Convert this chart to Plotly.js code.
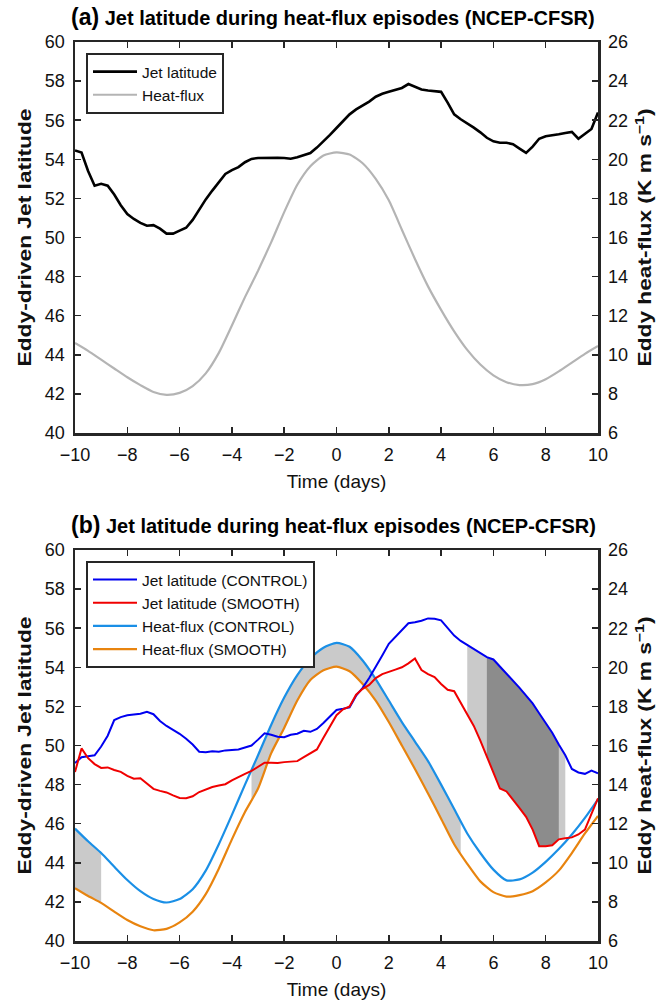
<!DOCTYPE html>
<html>
<head>
<meta charset="utf-8">
<script src="https://cdn.plot.ly/plotly-3.0.1.min.js"></script>
<style>
  html, body { margin: 0; padding: 0; background: #ffffff; }
  #chart { width: 668px; height: 1000px; }
</style>
</head>
<body>
<div id="chart"></div>
<script>
// ---- time axes (days relative to the heat-flux peak) ----
const DAYS_JET = Array.from({length: 81}, (_, i) => -10 + i * 0.25);   // 6-hourly
const DAYS_HF  = Array.from({length: 41}, (_, i) => -10 + i * 0.5);    // 12-hourly

// ---- panel (a): NCEP-CFSR composite ----
const jetLatA = [
  54.45, 54.35, 53.40, 52.65, 52.75, 52.65, 52.20, 51.65, 51.20, 50.95,
  50.75, 50.60, 50.63, 50.45, 50.20, 50.20, 50.35, 50.50, 50.90, 51.45,
  51.95, 52.40, 52.85, 53.25, 53.45, 53.60, 53.85, 54.02, 54.07, 54.08,
  54.08, 54.08, 54.07, 54.03, 54.10, 54.20, 54.32, 54.60, 54.90, 55.25,
  55.60, 55.95, 56.30, 56.55, 56.75, 56.95, 57.20, 57.35, 57.45, 57.55,
  57.65, 57.85, 57.70, 57.57, 57.52, 57.48, 57.45, 56.90, 56.30, 56.05,
  55.85, 55.62, 55.38, 55.10, 54.92, 54.85, 54.85, 54.77, 54.55, 54.33,
  54.65, 55.05, 55.18, 55.22, 55.28, 55.35, 55.40, 55.05, 55.30, 55.55,
  56.40
];
const heatFluxA = [
  10.60, 10.20, 9.75, 9.30, 8.85, 8.45, 8.10, 7.95, 8.05, 8.40,
  9.05, 10.10, 11.50, 12.95, 14.30, 15.75, 17.30, 18.70, 19.65, 20.20,
  20.35, 20.25, 19.80, 19.00, 17.90, 16.40, 14.90, 13.50, 12.30, 11.20,
  10.25, 9.50, 8.95, 8.60, 8.45, 8.50, 8.75, 9.15, 9.60, 10.05,
  10.45
];

// ---- panel (b): CONTROL vs SMOOTH experiments ----
const jetLatControl = [
  49.10, 49.40, 49.45, 49.50, 49.95, 50.50, 51.30, 51.45, 51.55, 51.58,
  51.62, 51.72, 51.60, 51.25, 51.00, 50.80, 50.60, 50.35, 50.05, 49.68,
  49.65, 49.70, 49.68, 49.75, 49.78, 49.80, 49.90, 50.00, 50.30, 50.62,
  50.55, 50.45, 50.42, 50.55, 50.60, 50.75, 50.70, 50.85, 51.15, 51.50,
  51.82, 51.88, 51.95, 52.55, 52.95, 53.45, 54.00, 54.60, 55.20, 55.55,
  55.90, 56.25, 56.30, 56.38, 56.50, 56.48, 56.40, 56.00, 55.62, 55.35,
  55.14, 54.95, 54.75, 54.52, 54.40, 54.05, 53.70, 53.30, 52.95, 52.55,
  52.15, 51.65, 51.15, 50.65, 50.05, 49.50, 48.80, 48.62, 48.55, 48.72,
  48.58
];
const jetLatSmooth = [
  48.65, 49.85, 49.35, 49.05, 48.85, 48.88, 48.75, 48.65, 48.45, 48.30,
  48.32, 48.05, 47.78, 47.68, 47.60, 47.45, 47.32, 47.30, 47.40, 47.62,
  47.75, 47.88, 47.95, 48.02, 48.22, 48.40, 48.55, 48.70, 48.90, 49.12,
  49.12, 49.10, 49.15, 49.17, 49.20, 49.40, 49.60, 49.80, 50.40, 51.00,
  51.55, 51.85, 52.00, 52.60, 52.90, 53.10, 53.45, 53.65, 53.75, 53.88,
  54.00, 54.20, 54.45, 53.86, 53.65, 53.50, 53.15, 52.85, 52.78, 52.20,
  51.60, 51.00, 50.25, 49.40, 48.60, 47.80, 47.65, 47.25, 46.80, 46.35,
  45.70, 44.85, 44.85, 44.90, 45.20, 45.25, 45.30, 45.45, 45.70, 46.50,
  47.30
];
const heatFluxControl = [
  11.75, 11.10, 10.50, 9.80, 9.12, 8.55, 8.15, 7.97, 8.15, 8.65,
  9.60, 10.95, 12.45, 14.00, 15.50, 17.05, 18.45, 19.60, 20.45, 21.00,
  21.25, 21.05, 20.35, 19.40, 18.30, 17.20, 16.20, 15.20, 14.00, 12.75,
  11.50, 10.50, 9.65, 9.10, 9.15, 9.50, 10.05, 10.70, 11.45, 12.30,
  13.25
];
const heatFluxSmooth = [
  8.70, 8.30, 7.95, 7.50, 7.07, 6.75, 6.55, 6.62, 6.95, 7.50,
  8.40, 9.70, 11.20, 12.60, 13.80, 15.60, 16.90, 18.30, 19.35, 19.85,
  20.03, 19.80, 19.15, 18.30, 17.20, 16.00, 14.80, 13.55, 12.25, 10.95,
  9.95, 9.05, 8.50, 8.27, 8.35, 8.55, 9.00, 9.60, 10.50, 11.50,
  12.40
];

// shaded windows (days)
const hfWindows      = [[-10, -9.0], [-3.25, 4.75]];   // heat-flux difference
const jetWindowLight = [5.0, 8.75];                    // jet difference, light
const jetWindowDark  = [5.75, 8.5];                    // jet difference, dark

const TICK_LABELS_DAYS = ['\u221210', '\u22128', '\u22126', '\u22124', '\u22122', '0', '2', '4', '6', '8', '10'];
const TICK_VALS_DAYS = [-10, -8, -6, -4, -2, 0, 2, 4, 6, 8, 10];

// ---- helpers ----
function valueAt(xs, ys, t) {
  for (let i = 0; i < xs.length - 1; i++) {
    if (t >= xs[i] && t <= xs[i + 1]) {
      const f = (t - xs[i]) / (xs[i + 1] - xs[i]);
      return ys[i] + f * (ys[i + 1] - ys[i]);
    }
  }
  return ys[ys.length - 1];
}
function segment(xs, ys, a, b) {
  const sx = [a], sy = [valueAt(xs, ys, a)];
  xs.forEach((x, i) => { if (x > a + 1e-9 && x < b - 1e-9) { sx.push(x); sy.push(ys[i]); } });
  sx.push(b); sy.push(valueAt(xs, ys, b));
  return {x: sx, y: sy};
}
// closed polygon between two series (straight segments)
function band(xs, upper, lower, a, b, color, xaxis, yaxis) {
  const u = segment(xs, upper, a, b);
  const l = segment(xs, lower, a, b);
  return {
    x: u.x.concat(l.x.slice().reverse()),
    y: u.y.concat(l.y.slice().reverse()),
    xaxis: xaxis, yaxis: yaxis,
    type: 'scatter', mode: 'lines', fill: 'toself',
    fillcolor: color, line: {width: 0, color: color},
    hoverinfo: 'skip', showlegend: false
  };
}
// pair of invisible smoothed edges filled between each other
function smoothBand(xs, upper, lower, a, b, color, xaxis, yaxis) {
  const u = segment(xs, upper, a, b);
  const l = segment(xs, lower, a, b);
  const base = {xaxis: xaxis, yaxis: yaxis, type: 'scatter', mode: 'lines',
                hoverinfo: 'skip', showlegend: false};
  return [
    Object.assign({x: u.x, y: u.y, line: {width: 0, color: color, shape: 'spline', smoothing: 0.6}}, base),
    Object.assign({x: l.x, y: l.y, fill: 'tonexty', fillcolor: color,
                   line: {width: 0, color: color, shape: 'spline', smoothing: 0.6}}, base)
  ];
}

const FONT = 'Liberation Sans, Arial, Helvetica, sans-serif';
const AXC = '#262626';
const C_BLUE = '#0000f0', C_RED = '#f00000', C_LBLUE = '#1a8fe6', C_ORANGE = '#e8840f';
const C_BAND = '#cacaca', C_DARK = '#8c8c8c';
const SMOOTH_LINE = {shape: 'spline', smoothing: 0.6};

const traces = [
  // panel (a)
  {x: DAYS_JET, y: jetLatA, xaxis: 'x', yaxis: 'y', type: 'scatter', mode: 'lines',
   name: 'Jet latitude', line: {color: '#000000', width: 2.6}, legend: 'legend'},
  {x: DAYS_HF, y: heatFluxA, xaxis: 'x', yaxis: 'y2', type: 'scatter', mode: 'lines',
   name: 'Heat-flux', line: Object.assign({color: '#b4b4b4', width: 2.2}, SMOOTH_LINE), legend: 'legend'},

  // panel (b): shading between the jet curves
  band(DAYS_JET, jetLatControl, jetLatSmooth, jetWindowLight[0], jetWindowLight[1], C_BAND, 'x2', 'y4'),
  band(DAYS_JET, jetLatControl, jetLatSmooth, jetWindowDark[0], jetWindowDark[1], C_DARK, 'x2', 'y4'),
  {x: DAYS_JET, y: jetLatControl, xaxis: 'x2', yaxis: 'y4', type: 'scatter', mode: 'lines',
   name: 'Jet latitude (CONTROL)', line: {color: C_BLUE, width: 2}, legend: 'legend2'},
  {x: DAYS_JET, y: jetLatSmooth, xaxis: 'x2', yaxis: 'y4', type: 'scatter', mode: 'lines',
   name: 'Jet latitude (SMOOTH)', line: {color: C_RED, width: 2}, legend: 'legend2'},

  // panel (b): shading between the heat-flux curves
  ...hfWindows.flatMap(w => smoothBand(DAYS_HF, heatFluxControl, heatFluxSmooth, w[0], w[1], C_BAND, 'x2', 'y3')),
  {x: DAYS_HF, y: heatFluxControl, xaxis: 'x2', yaxis: 'y3', type: 'scatter', mode: 'lines',
   name: 'Heat-flux (CONTROL)', line: Object.assign({color: C_LBLUE, width: 2.2}, SMOOTH_LINE), legend: 'legend2'},
  {x: DAYS_HF, y: heatFluxSmooth, xaxis: 'x2', yaxis: 'y3', type: 'scatter', mode: 'lines',
   name: 'Heat-flux (SMOOTH)', line: Object.assign({color: C_ORANGE, width: 2.2}, SMOOTH_LINE), legend: 'legend2'}
];

const W = 668, H = 1000;
const X_DOM = [75 / W, 598 / W];
const A_DOM = [1 - 433 / H, 1 - 42 / H];
const B_DOM = [1 - 941 / H, 1 - 550 / H];

function xAxis(anchor) {
  return {
    domain: X_DOM, anchor: anchor, range: [-10, 10],
    tickvals: TICK_VALS_DAYS, ticktext: TICK_LABELS_DAYS,
    ticks: 'inside', ticklen: 6, tickwidth: 1.5, tickcolor: AXC,
    showline: true, linewidth: 2.5, linecolor: AXC, mirror: 'ticks',
    showgrid: false, zeroline: false, automargin: false,
    tickfont: {family: FONT, size: 18, color: '#111'}, ticklabelstandoff: 4,
    title: {text: 'Time (days)', font: {family: FONT, size: 19, color: '#111'}, standoff: 11}
  };
}
function yAxis(domain, range, side, titleText, extra) {
  return Object.assign({
    domain: domain, range: range, dtick: 2, side: side,
    ticks: 'inside', ticklen: 6, tickwidth: 1.5, tickcolor: AXC,
    showline: true, linewidth: 2.5, linecolor: AXC,
    showgrid: false, zeroline: false, automargin: false,
    tickfont: {family: FONT, size: 18, color: '#111'}, ticklabelstandoff: 4,
    title: {text: titleText, font: {family: FONT, size: 18, color: '#111'}, standoff: side === 'right' ? 12 : 9}
  }, extra || {});
}

const LEFT_TITLE = '<b>Eddy-driven Jet latitude</b>';
const RIGHT_TITLE = '<b>Eddy heat-flux (K m s<sup>\u22121</sup>)</b>';

const legendStyle = {
  xanchor: 'left', yanchor: 'top', bgcolor: '#ffffff',
  bordercolor: AXC, borderwidth: 2,
  font: {family: FONT, size: 15.5, color: '#111'},
  itemwidth: 44, tracegroupgap: 0, traceorder: 'normal'
};

const layout = {
  width: W, height: H,
  margin: {l: 0, r: 0, t: 0, b: 0},
  paper_bgcolor: '#ffffff', plot_bgcolor: '#ffffff',
  showlegend: true,
  xaxis: xAxis('y'),
  yaxis: yAxis(A_DOM, [40, 60], 'left', LEFT_TITLE),
  yaxis2: yAxis(A_DOM, [6, 26], 'right', RIGHT_TITLE, {overlaying: 'y', anchor: 'x'}),
  xaxis2: xAxis('y3'),
  yaxis3: yAxis(B_DOM, [6, 26], 'right', RIGHT_TITLE, {anchor: 'x2'}),
  yaxis4: yAxis(B_DOM, [40, 60], 'left', LEFT_TITLE, {overlaying: 'y3', anchor: 'x2'}),
  legend: Object.assign({x: 86 / W, y: 1 - 53 / H}, legendStyle),
  legend2: Object.assign({x: 86 / W, y: 1 - 561 / H}, legendStyle),
  annotations: [
    {text: '<span style="font-size:23px">(a)</span> Jet latitude during heat-flux episodes (NCEP-CFSR)',
     xref: 'paper', yref: 'paper', x: 333 / W, y: 1 - 17 / H, xanchor: 'center', yanchor: 'middle',
     showarrow: false, font: {family: FONT, size: 20, color: '#000', weight: 'bold'}},
    {text: '<span style="font-size:23px">(b)</span> Jet latitude during heat-flux episodes (NCEP-CFSR)',
     xref: 'paper', yref: 'paper', x: 333 / W, y: 1 - 525 / H, xanchor: 'center', yanchor: 'middle',
     showarrow: false, font: {family: FONT, size: 20, color: '#000', weight: 'bold'}}
  ]
};

Plotly.newPlot('chart', traces, layout, {displayModeBar: false, staticPlot: true}).then(gd => {
  // the vertical axis titles are set in a tall, narrow face: stretch them along their baseline
  gd.querySelectorAll('.g-ytitle text, .g-y2title text, .g-y3title text, .g-y4title text').forEach(t => {
    t.setAttribute('textLength', '258');
    t.setAttribute('lengthAdjust', 'spacingAndGlyphs');
  });
});
</script>
</body>
</html>
